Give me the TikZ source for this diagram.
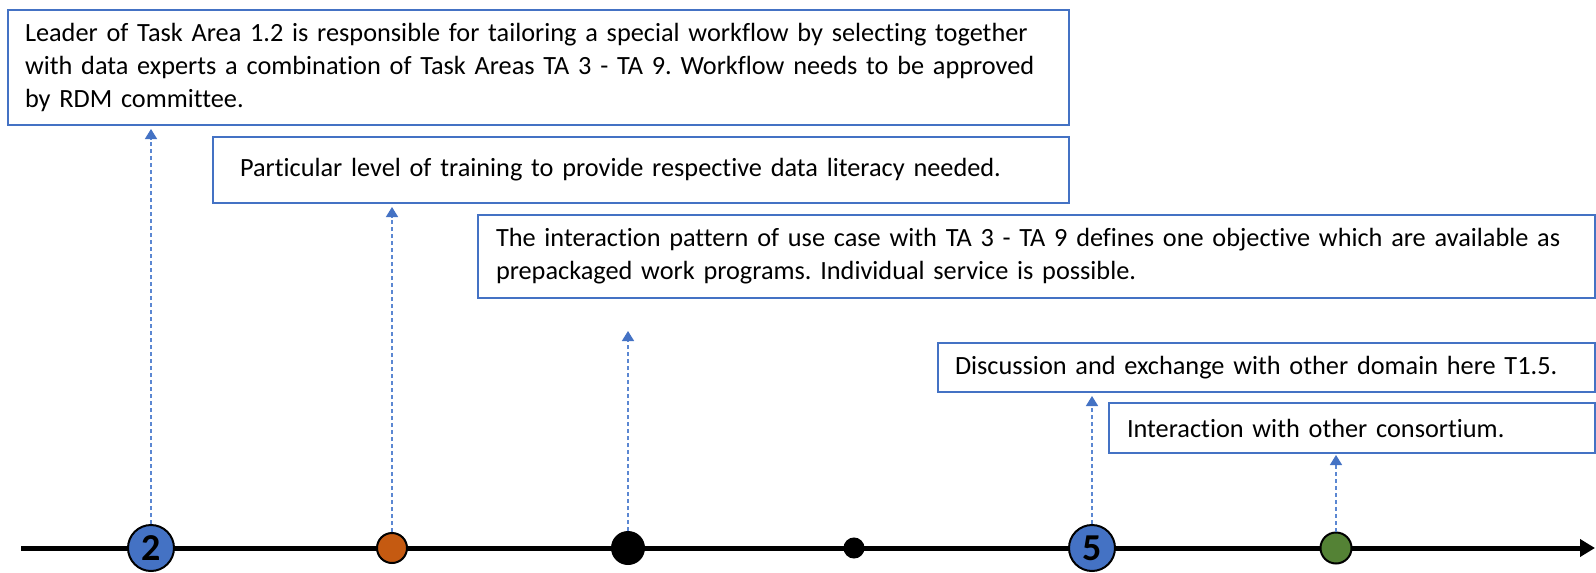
\documentclass[tikz,border=0pt]{standalone}
\usepackage{fontspec}
\setmainfont{Carlito}[Ligatures={NoCommon}]
\usetikzlibrary{arrows.meta}
\definecolor{boxblue}{HTML}{4472C4}
\definecolor{dashblue}{HTML}{5B87D2}
\definecolor{dotorange}{HTML}{C55A11}
\definecolor{dotgreen}{HTML}{548235}
\frenchspacing
\begin{document}
\begin{tikzpicture}[x=1pt,y=-1pt,
  box/.style={draw=boxblue, line width=2pt, rectangle, anchor=north west,
    inner ysep=0pt, align=left, font=\fontsize{26.3}{33}\selectfont},
  dot/.style={circle, draw=black, line width=2pt, inner sep=0pt,
    font=\bfseries\fontsize{38}{38}\selectfont},
  conn/.style={dashblue, line width=1.4pt, dash pattern=on 4pt off 3pt,
    -{Triangle[length=10pt,width=12pt,color=boxblue]}, shorten >=3pt},
  axis/.style={line width=5pt, -{Triangle[length=15pt,width=17pt]}}]
\useasboundingbox (0,0) rectangle (1596,573);
\fill[white] (0,0) rectangle (1596,573);

\node[box, inner xsep=17pt, text width=1027pt, minimum height=115pt] (b1) at (7,9)
 {Leader of Task Area 1.2 is responsible for tailoring a special workflow by selecting together\\
  with data experts a combination of Task Areas TA 3 - TA 9. Workflow needs to be approved\\
  by RDM committee.};
\node[box, inner xsep=27pt, text width=802pt, minimum height=66pt] (b2) at (212,136)
 {Particular level of training to provide respective data literacy needed.};
\node[box, inner xsep=18pt, text width=1081pt, minimum height=83pt] (b3) at (477,214)
 {The interaction pattern of use case with TA 3 - TA 9 defines one objective which are available as\\
  prepackaged work programs. Individual service is possible.};
\node[box, inner xsep=17pt, text width=623pt, minimum height=49pt] (b4) at (937,342)
 {Discussion and exchange with other domain here T1.5.};
\node[box, inner xsep=18pt, text width=450pt, minimum height=50pt] (b5) at (1108,402)
 {Interaction with other consortium.};

\coordinate (axs) at (21,548);
\coordinate (axe) at (1595,548);
\draw[axis] (axs) -- (axe);

\node[dot, fill=boxblue, minimum size=46pt] (c2) at (151,548) {2};
\node[dot, fill=dotorange, minimum size=30pt] (co) at (392,548) {};
\node[dot, fill=black, minimum size=32pt] (cb) at (628,548) {};
\node[dot, fill=black, minimum size=19pt] (cs) at (854,548) {};
\node[dot, fill=boxblue, minimum size=46pt] (c5) at (1092,548) {5};
\node[dot, fill=dotgreen, minimum size=31pt] (cg) at (1336,548) {};

\coordinate (tb) at (628,331);
\draw[conn] (c2.north) -- (c2.north |- b1.south);
\draw[conn] (co.north) -- (co.north |- b2.south);
\draw[conn, shorten >=0pt] (cb.north) -- (tb);
\draw[conn] (c5.north) -- (c5.north |- b4.south);
\draw[conn, shorten >=1pt] (cg.north) -- (cg.north |- b5.south);
\end{tikzpicture}
\end{document}
